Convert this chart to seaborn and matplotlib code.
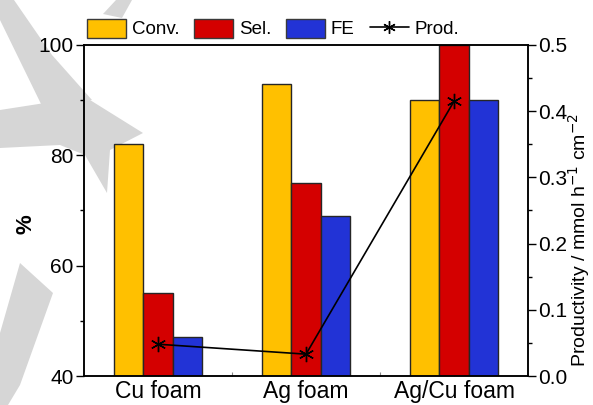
import numpy as np
import pandas as pd
import matplotlib
matplotlib.use("Agg")
import matplotlib.pyplot as plt
import seaborn as sns
from matplotlib.patches import Patch, Polygon
from matplotlib.lines import Line2D
from matplotlib.ticker import MultipleLocator, FormatStrFormatter

# Data
catalysts = ["Cu foam", "Ag foam", "Ag/Cu foam"]
series_names = ["Conv.", "Sel.", "FE"]
conversion = [82, 93, 90]
selectivity = [55, 75, 100]
faradaic_eff = [47, 69, 90]
productivity = [0.048, 0.033, 0.415]
bar_colors = ["#FFC000", "#D40000", "#2233D6"]

sns.set_theme(style="ticks")
plt.rcParams["font.family"] = ["Liberation Sans", "DejaVu Sans"]
plt.rcParams["text.color"] = "black"
plt.rcParams["xtick.color"] = "black"
plt.rcParams["ytick.color"] = "black"
plt.rcParams["axes.labelcolor"] = "black"

W, H = 593, 405
fig = plt.figure(figsize=(W / 100, H / 100), dpi=100)

# faint grey backdrop strokes (pixel coordinates, origin top-left)
backdrop = [
    [(0, 0), (14, 0), (52, 55), (92, 100), (42, 106), (0, 20)],
    [(0, 110), (45, 103), (90, 100), (143, 133), (110, 150), (107, 193),
     (85, 155), (60, 145), (0, 148)],
    [(20, 263), (53, 293), (20, 385), (8, 405), (0, 405), (0, 333)],
    [(103, 14), (116, 0), (132, 0), (122, 18)],
]
for pts in backdrop:
    p = np.array(pts, dtype=float)
    p[:, 0] /= W
    p[:, 1] = 1 - p[:, 1] / H
    fig.add_artist(Polygon(p, closed=True, transform=fig.transFigure,
                           facecolor="#d6d6d6", edgecolor="none", zorder=0))

ax = fig.add_axes([84 / W, 29 / H, 444 / W, 331 / H])
ax.patch.set_alpha(0)

df = pd.DataFrame({
    "Catalyst": catalysts * 3,
    "Metric": np.repeat(series_names, len(catalysts)),
    "Value": conversion + selectivity + faradaic_eff,
})
sns.barplot(data=df, x="Catalyst", y="Value", hue="Metric", hue_order=series_names,
            palette=bar_colors, saturation=1, width=0.6, gap=0,
            edgecolor="#262626", linewidth=1.0, ax=ax, legend=False, errorbar=None)

ax.set_ylim(40, 100)
ax.set_xlim(-0.5, 2.5)
ax.yaxis.set_major_locator(MultipleLocator(20))
ax.yaxis.set_minor_locator(MultipleLocator(10))
ax.set_xticks([0, 1, 2])
ax.set_xticks([0.5, 1.5], minor=True)
ax.set_xticklabels(catalysts)
ax.tick_params(axis="y", which="major", direction="out", length=5.5, width=1, labelsize=15, pad=2)
ax.tick_params(axis="y", which="minor", direction="out", length=3, width=1)
ax.tick_params(axis="x", which="both", direction="in", length=3, width=0.8, labelsize=16.5, pad=3,
               color="#888888", labelcolor="black")
ax.set_xlabel("")
ax.set_ylabel("%", fontsize=16, fontweight="bold")
ax.yaxis.set_label_coords(-0.107, 0.46)
for s in ax.spines.values():
    s.set_linewidth(1.1)
    s.set_color("black")

ax2 = ax.twinx()
sns.lineplot(x=np.arange(len(catalysts)), y=productivity, ax=ax2, color="black",
             linewidth=1.2, marker=(6, 2, 0), markersize=11, markeredgewidth=1.0,
             markeredgecolor="black")
ax2.set_ylim(0, 0.5)
ax2.yaxis.set_major_locator(MultipleLocator(0.1))
ax2.yaxis.set_minor_locator(MultipleLocator(0.05))
ax2.yaxis.set_major_formatter(FormatStrFormatter("%.1f"))
ax2.tick_params(axis="y", which="major", direction="out", length=5.5, width=1, labelsize=15, pad=2)
ax2.tick_params(axis="y", which="minor", direction="out", length=3, width=1)
ax2.set_ylabel("Productivity / mmol h$^{-1}$ cm$^{-2}$", fontsize=14)
ax2.yaxis.set_label_coords(1.086, 0.41)
for s in ax2.spines.values():
    s.set_linewidth(1.1)
    s.set_color("black")

handles = [Patch(facecolor=c, edgecolor="#3a3a3a", linewidth=1.0) for c in bar_colors]
handles.append(Line2D([], [], color="black", linewidth=1.2, marker=(6, 2, 0),
                      markersize=9, markeredgewidth=1.0))
fig.legend(handles, series_names + ["Prod."], ncol=4, frameon=False, loc="center",
           bbox_to_anchor=(273 / W, 1 - 28.5 / H), fontsize=13.5, handlelength=2.08,
           handleheight=1.2, handletextpad=0.3, columnspacing=0.8, borderpad=0)

fig.savefig("out.png", dpi=100)
